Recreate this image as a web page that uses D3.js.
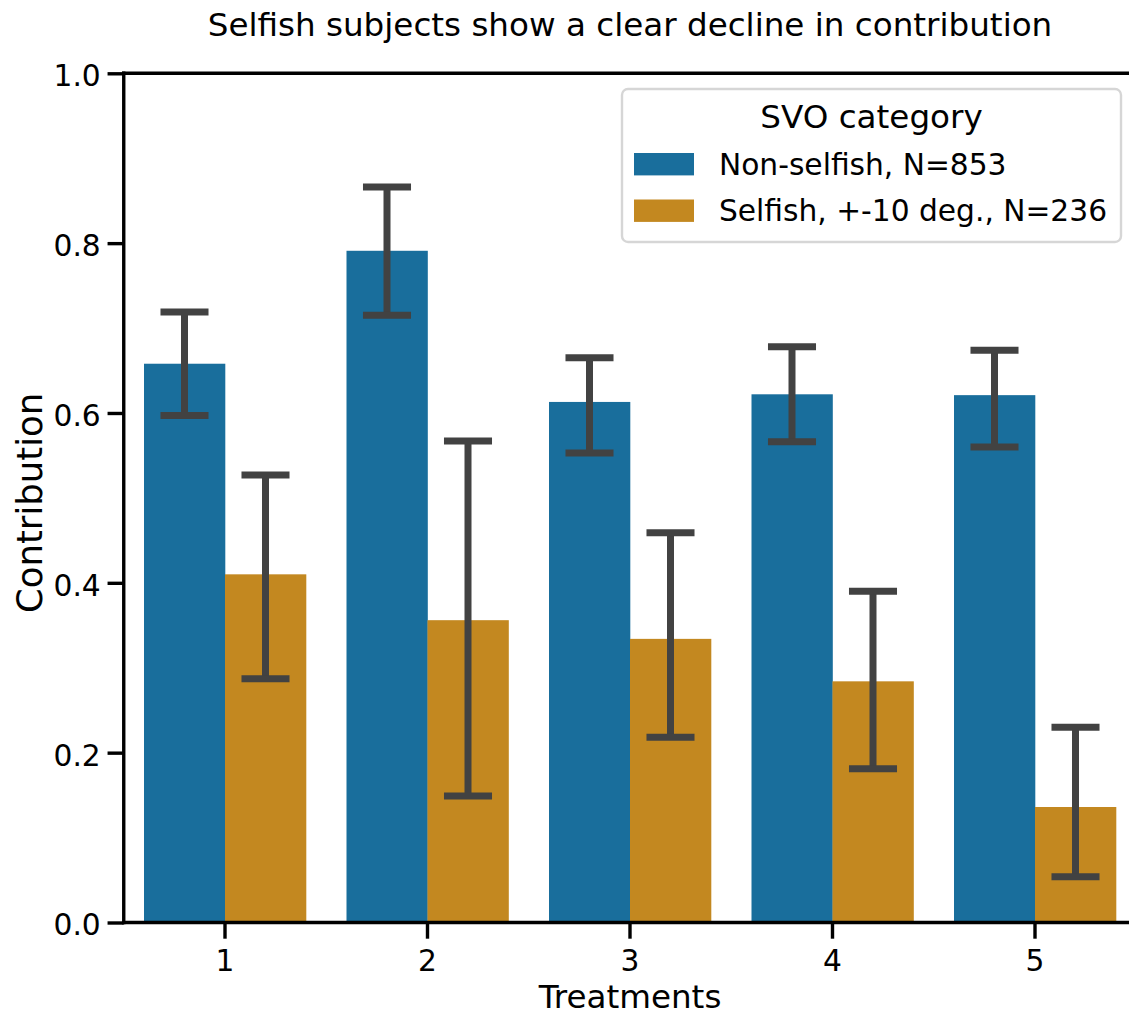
<!DOCTYPE html>
<html>
<head>
<meta charset="utf-8">
<script src="https://cdn.jsdelivr.net/npm/d3@7"></script>
<style>
  html, body { margin: 0; padding: 0; background: #fff; overflow: hidden; }
  svg { display: block; font-family: "DejaVu Sans", sans-serif; }
</style>
</head>
<body>
<svg id="chart" width="1129" height="1016"></svg>
<script>
// ---- data ----
const treatments = ["1", "2", "3", "4", "5"];
const seriesNames = ["Non-selfish, N=853", "Selfish, +-10 deg., N=236"];
const nonSelfishMean = [0.658, 0.791, 0.613, 0.622, 0.621];
const nonSelfishLow  = [0.597, 0.715, 0.553, 0.566, 0.560];
const nonSelfishHigh = [0.719, 0.866, 0.665, 0.678, 0.674];
const selfishMean = [0.410, 0.356, 0.334, 0.284, 0.136];
const selfishLow  = [0.287, 0.149, 0.218, 0.181, 0.054];
const selfishHigh = [0.527, 0.567, 0.459, 0.390, 0.230];
const yTicks = [0.0, 0.2, 0.4, 0.6, 0.8, 1.0];
const colors = ["#196e9c", "#c38820"];
const titleText = "Selfish subjects show a clear decline in contribution";
const xLabel = "Treatments";
const yLabel = "Contribution";
const legendTitle = "SVO category";

// ---- layout ----
const svg = d3.select("#chart");
const plot = { left: 123.75, right: 1136.25, top: 73.3, bottom: 922.5 };
const tickFont = 29.7, labelFont = 32.6, yLabelFont = 35.5;
const ink = "#000";
const errColor = "#424242";

const x = d3.scaleBand().domain(treatments).range([plot.left, plot.right]).padding(0);
const hue = d3.scaleBand().domain(seriesNames)
  .range([x.bandwidth() * 0.1, x.bandwidth() * 0.9]).padding(0);
const y = d3.scaleLinear().domain([0, 1]).range([plot.bottom, plot.top]);

const series = [
  { name: seriesNames[0], mean: nonSelfishMean, low: nonSelfishLow, high: nonSelfishHigh, color: colors[0] },
  { name: seriesNames[1], mean: selfishMean, low: selfishLow, high: selfishHigh, color: colors[1] }
];

const rows = [];
series.forEach(s => treatments.forEach((t, i) => rows.push({
  t, name: s.name, color: s.color, mean: s.mean[i], low: s.low[i], high: s.high[i]
})));

// bars
svg.append("g").selectAll("rect").data(rows).join("rect")
  .attr("x", d => x(d.t) + hue(d.name))
  .attr("width", hue.bandwidth() + 0.3)
  .attr("y", d => y(d.mean))
  .attr("height", d => y(0) - y(d.mean))
  .attr("fill", d => d.color);

// error bars
const capW = hue.bandwidth() * 0.593;
const eg = svg.append("g").attr("stroke", errColor).attr("stroke-width", 7).attr("fill", "none");
rows.forEach(d => {
  const cx = x(d.t) + hue(d.name) + hue.bandwidth() / 2;
  eg.append("line").attr("x1", cx).attr("x2", cx).attr("y1", y(d.low)).attr("y2", y(d.high));
  eg.append("line").attr("x1", cx - capW / 2).attr("x2", cx + capW / 2).attr("y1", y(d.low)).attr("y2", y(d.low));
  eg.append("line").attr("x1", cx - capW / 2).attr("x2", cx + capW / 2).attr("y1", y(d.high)).attr("y2", y(d.high));
});

// axes
const xAxis = d3.axisBottom(x).tickSize(16.2).tickPadding(9).tickSizeOuter(0);
const gx = svg.append("g").attr("transform", `translate(0,${plot.bottom})`).call(xAxis);
gx.select(".domain").remove();
gx.selectAll(".tick line").attr("stroke", ink).attr("stroke-width", 3.4);
gx.selectAll(".tick text").attr("fill", ink).attr("font-size", tickFont)
  .attr("font-family", "DejaVu Sans").attr("dy", null).attr("y", 48.2);

const yAxis = d3.axisLeft(y).tickValues(yTicks).tickFormat(d3.format(".1f")).tickSize(16.2).tickPadding(9);
const gy = svg.append("g").attr("transform", `translate(${plot.left},0)`).call(yAxis);
gy.select(".domain").remove();
gy.selectAll(".tick line").attr("stroke", ink).attr("stroke-width", 3.4);
gy.selectAll(".tick text").attr("fill", ink).attr("font-size", tickFont)
  .attr("font-family", "DejaVu Sans").attr("dy", null).attr("y", 12.4).attr("x", -23);

// spines: left, bottom, top (right is outside the picture)
const sp = svg.append("g").attr("stroke", ink).attr("stroke-width", 3.4).attr("stroke-linecap", "square");
sp.append("line").attr("x1", plot.left).attr("x2", plot.left).attr("y1", plot.top).attr("y2", plot.bottom);
sp.append("line").attr("x1", plot.left).attr("x2", plot.right).attr("y1", plot.bottom).attr("y2", plot.bottom);
sp.append("line").attr("x1", plot.left).attr("x2", plot.right).attr("y1", plot.top).attr("y2", plot.top);
sp.append("line").attr("x1", plot.right).attr("x2", plot.right).attr("y1", plot.top).attr("y2", plot.bottom);

// title and labels
svg.append("text").attr("x", (plot.left + plot.right) / 2).attr("y", 36)
  .attr("text-anchor", "middle").attr("font-size", labelFont).attr("fill", ink).text(titleText);
svg.append("text").attr("x", (plot.left + plot.right) / 2).attr("y", 1008)
  .attr("text-anchor", "middle").attr("font-size", labelFont).attr("fill", ink).text(xLabel);
svg.append("text").attr("transform", `translate(42,${(plot.top + plot.bottom) / 2 + 5}) rotate(-90)`)
  .attr("text-anchor", "middle").attr("font-size", yLabelFont).attr("fill", ink).text(yLabel);

// legend
const lg = svg.append("g");
lg.append("rect").attr("x", 622).attr("y", 89).attr("width", 499).attr("height", 153)
  .attr("rx", 6).attr("ry", 6).attr("fill", "#fff").attr("fill-opacity", 0.8)
  .attr("stroke", "#d6d6d6").attr("stroke-width", 2.4);
lg.append("text").attr("x", 871.5).attr("y", 128.3).attr("text-anchor", "middle")
  .attr("font-size", labelFont).attr("fill", ink).text(legendTitle);
series.forEach((s, i) => {
  const top = 153 + i * 46.5;
  lg.append("rect").attr("x", 634).attr("y", top).attr("width", 60).attr("height", 22.4).attr("fill", s.color);
  lg.append("text").attr("x", 719).attr("y", top + 21.5).attr("font-size", tickFont)
    .attr("fill", ink).text(s.name);
});
</script>
</body>
</html>
